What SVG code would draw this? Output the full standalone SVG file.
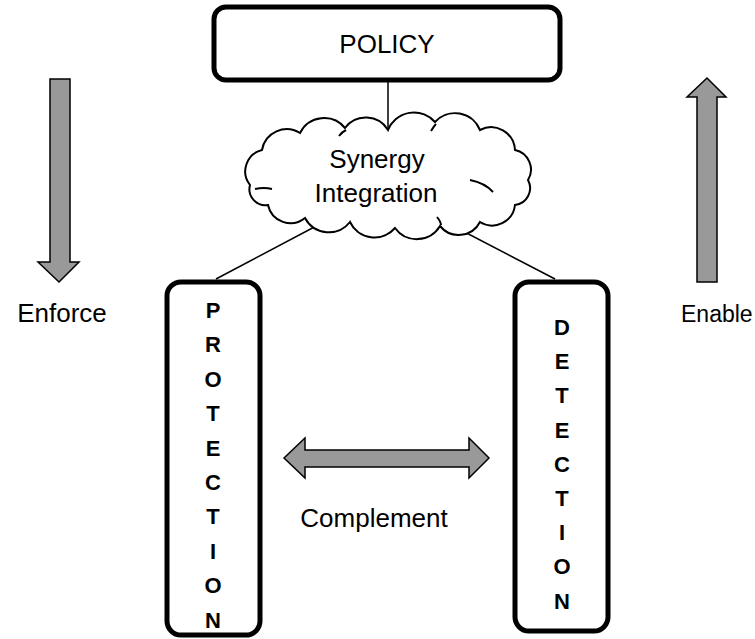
<svg xmlns="http://www.w3.org/2000/svg" width="755" height="639" viewBox="0 0 755 639">
<style>
text{font-family:"Liberation Sans",Arial,sans-serif;fill:#000}
.box{fill:#fff;stroke:#000;stroke-width:5}
.arrow{fill:#999;stroke:#000;stroke-width:1.5;stroke-linejoin:miter}
.line{stroke:#000;stroke-width:1.5;fill:none}
.lbl{font-size:26px;text-anchor:middle}
.vl{font-size:22px;font-weight:bold;text-anchor:middle}
.cloud{fill:#fff;stroke:#000;stroke-width:2}
.curl{fill:none;stroke:#000;stroke-width:2}
</style>
<rect width="755" height="639" fill="#fff"/>
<g id="connectors">
<line class="line" x1="388" y1="82" x2="388" y2="130"/>
<line class="line" x1="320" y1="224" x2="216" y2="279"/>
<line class="line" x1="455" y1="227" x2="555" y2="279"/>
</g>
<g id="policy">
<rect class="box" x="214" y="7" width="346" height="73" rx="12"/>
<text class="lbl" x="387" y="53">POLICY</text>
</g>
<g id="synergy">
<path class="cloud" d="M250,185 A22,22 0 0 1 262,150 A25,25 0 0 1 300,133 A27,27 0 0 1 345,128 A26,26 0 0 1 388,130 A28,28 0 0 1 435,122 A27,27 0 0 1 480,130 A24,24 0 0 1 515,150 A20,20 0 0 1 528,180 A17,17 0 0 1 515,205 A23,23 0 0 1 480,222 A24,24 0 0 1 440,226 A27,27 0 0 1 395,228 A27,27 0 0 1 350,222 A27,27 0 0 1 305,218 A23,23 0 0 1 268,205 A16,16 0 0 1 250,185 Z"/>
<path class="curl" d="M255,189 Q264,187 272,189"/>
<path class="curl" d="M339,136 Q342,132 346,130"/>
<path class="curl" d="M431,131 Q434,126 436,124"/>
<path class="curl" d="M470,180 Q485,183 493,192"/>
<path class="curl" d="M437,217 Q441,222 441,225"/>
<text class="lbl" x="377" y="168">Synergy</text>
<text class="lbl" x="376" y="202">Integration</text>
</g>
<g id="protection">
<rect class="box" x="167" y="282" width="93" height="353" rx="14"/>
<text class="vl" x="213" y="318">P</text>
<text class="vl" x="213" y="352.4">R</text>
<text class="vl" x="213" y="386.8">O</text>
<text class="vl" x="213" y="421.2">T</text>
<text class="vl" x="213" y="455.6">E</text>
<text class="vl" x="213" y="490">C</text>
<text class="vl" x="213" y="524.4">T</text>
<text class="vl" x="213" y="558.8">I</text>
<text class="vl" x="213" y="593.2">O</text>
<text class="vl" x="213" y="627.6">N</text>
</g>
<g id="detection">
<rect class="box" x="515" y="282" width="93" height="349" rx="14"/>
<text class="vl" x="562" y="335">D</text>
<text class="vl" x="562" y="369.2">E</text>
<text class="vl" x="562" y="403.4">T</text>
<text class="vl" x="562" y="437.6">E</text>
<text class="vl" x="562" y="471.8">C</text>
<text class="vl" x="562" y="506">T</text>
<text class="vl" x="562" y="540.2">I</text>
<text class="vl" x="562" y="574.4">O</text>
<text class="vl" x="562" y="608.6">N</text>
</g>
<g id="enforce">
<path class="arrow" d="M50,79 H70 V262 H79 L59,282 L38,262 H50 Z"/>
<text class="lbl" x="62" y="322">Enforce</text>
</g>
<g id="enable">
<path class="arrow" d="M697,282 V97 H687 L707,78 L726,97 H717 V282 Z"/>
<text x="681" y="322" style="font-size:23px">Enable</text>
</g>
<g id="complement">
<path class="arrow" d="M284,458 L305,438 V450 H469 V438 L489,458 L469,478 V467 H305 V478 Z"/>
<text class="lbl" x="374" y="527">Complement</text>
</g>
</svg>
